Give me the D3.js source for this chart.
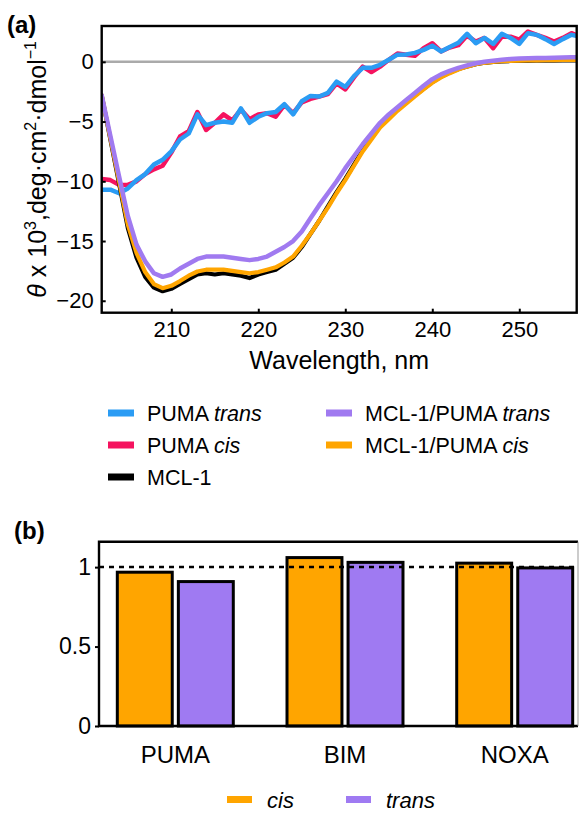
<!DOCTYPE html>
<html><head><meta charset="utf-8">
<script src="https://cdn.jsdelivr.net/npm/d3@7"></script>
<style>body{margin:0;background:#fff} svg{display:block;font-family:"Liberation Sans",Arial,Helvetica,sans-serif}</style>
</head><body><svg id="c" width="580" height="815"></svg>
<script>
// ---------- Panel (a) data ----------
const wavelengths = [202,203,204,205,206,207,208,209,210,211,212,213,214,215,216,217,218,219,220,221,222,223,224,225,226,227,228,229,230,231,232,233,234,235,236,237,238,239,240,241,242,243,244,245,246,247,248,249,250,251,252,253,254,255,256,257];
const pumaTrans = [-10.7,-10.7,-11.0,-10.6,-9.9,-9.4,-8.6,-8.2,-7.5,-6.5,-6.0,-4.4,-5.3,-5.1,-5.0,-5.1,-3.9,-5.1,-4.6,-4.3,-4.2,-3.55,-4.4,-3.3,-2.85,-2.9,-2.6,-1.65,-2.1,-1.2,-0.5,-0.5,-0.25,0.17,0.6,0.62,0.75,1.0,1.35,0.87,1.25,1.6,2.35,1.56,2.0,1.5,2.35,2.0,1.5,2.4,2.26,1.9,1.5,1.9,2.26,2.1];
const pumaCis = [-9.8,-9.9,-10.3,-10.3,-10.0,-9.4,-9.0,-8.7,-7.6,-6.25,-5.8,-4.2,-5.7,-5.1,-4.4,-4.9,-4.0,-4.8,-4.4,-4.3,-4.6,-3.6,-4.3,-3.4,-3.1,-2.9,-2.7,-1.8,-2.3,-1.3,-0.4,-0.85,-0.4,0.17,0.7,0.6,0.5,1.14,1.56,0.87,1.2,1.4,2.2,1.7,2.0,1.14,2.1,2.1,1.86,2.54,2.26,2.0,1.7,2.0,2.4,2.1];
const mcl1 = [-2.8,-6.5,-10.2,-13.9,-16.4,-18.0,-18.9,-19.2,-19.0,-18.6,-18.2,-17.8,-17.7,-17.8,-17.7,-17.8,-17.9,-18.1,-17.8,-17.6,-17.4,-16.9,-16.4,-15.5,-14.4,-13.3,-12.1,-10.9,-9.8,-8.6,-7.4,-6.4,-5.4,-4.7,-4.0,-3.4,-2.8,-2.25,-1.7,-1.25,-0.9,-0.6,-0.38,-0.2,-0.08,0.0,0.04,0.07,0.09,0.1,0.11,0.12,0.13,0.14,0.15,0.15];
const mclPumaCis = [-2.8,-6.4,-10.0,-13.6,-16.0,-17.6,-18.6,-18.95,-18.75,-18.35,-17.9,-17.55,-17.4,-17.4,-17.4,-17.5,-17.6,-17.7,-17.6,-17.4,-17.2,-16.8,-16.3,-15.4,-14.4,-13.3,-12.2,-11.0,-9.9,-8.7,-7.5,-6.5,-5.5,-4.8,-4.1,-3.5,-2.9,-2.3,-1.75,-1.3,-0.95,-0.65,-0.4,-0.2,-0.08,0.0,0.05,0.08,0.1,0.12,0.13,0.14,0.15,0.16,0.17,0.17];
const mclPumaTrans = [-2.8,-6.2,-9.6,-12.9,-15.3,-16.7,-17.7,-18.0,-17.8,-17.3,-16.9,-16.5,-16.3,-16.3,-16.3,-16.4,-16.5,-16.6,-16.5,-16.3,-15.9,-15.5,-15.0,-14.2,-13.1,-12.0,-11.0,-10.0,-8.9,-7.9,-6.9,-6.0,-5.1,-4.4,-3.8,-3.2,-2.6,-2.0,-1.45,-1.05,-0.75,-0.5,-0.3,-0.12,0.0,0.1,0.18,0.24,0.28,0.3,0.32,0.33,0.35,0.37,0.38,0.38];
const xTicksA = [210,220,230,240,250];
const yTicksA = [0,-5,-10,-15,-20];

// ---------- Panel (b) data ----------
const groups = ["PUMA","BIM","NOXA"];
const forms = ["cis","trans"];
const cisValues = [0.968,1.06,1.025];
const transValues = [0.909,1.03,0.995];
const yTicksB = [0,0.5,1];

const colors = {pumaTrans:"#2b9cf4", pumaCis:"#f5135f", mcl1:"#000000", mclPumaTrans:"#a07af0", mclPumaCis:"#ffa500"};
const barColors = {cis:"#ffa500", trans:"#9f7af2"};

const svg = d3.select("#c");
const FONT = "Liberation Sans, Arial, sans-serif";
const minus = s => String(s).replace("-", "\u2212");

// ================= Panel (a) =================
const A = {l:101.7, r:576.7, t:26, b:312.7};
const xA = d3.scaleLinear().domain([202, 256.6]).range([A.l, A.r]);
const yA = d3.scaleLinear().domain([-21, 3]).range([A.b, A.t]);

svg.append("defs").append("clipPath").attr("id","clipA")
  .append("rect").attr("x",A.l).attr("y",A.t).attr("width",A.r-A.l).attr("height",A.b-A.t);

svg.append("line").attr("x1",A.l).attr("x2",A.r).attr("y1",yA(0)).attr("y2",yA(0))
  .attr("stroke","#aaaaaa").attr("stroke-width",2.5);

const series = [
  {key:"pumaCis", vals:pumaCis, w:4.5},
  {key:"pumaTrans", vals:pumaTrans, w:4.5},
  {key:"mcl1", vals:mcl1, w:4.2},
  {key:"mclPumaCis", vals:mclPumaCis, w:4.2},
  {key:"mclPumaTrans", vals:mclPumaTrans, w:4.5}
];
const line = d3.line().x((d,i)=>xA(wavelengths[i])).y(d=>yA(d));
const gl = svg.append("g").attr("clip-path","url(#clipA)");
series.forEach(s=>{
  gl.append("path").attr("d", line(s.vals)).attr("fill","none")
    .attr("stroke", colors[s.key]).attr("stroke-width", s.w)
    .attr("stroke-linejoin","round").attr("stroke-linecap","round");
});

svg.append("rect").attr("x",A.l).attr("y",A.t).attr("width",A.r-A.l).attr("height",A.b-A.t)
  .attr("fill","none").attr("stroke","#000").attr("stroke-width",2.4);

const gxA = svg.append("g").attr("transform",`translate(0,${A.b})`)
  .call(d3.axisBottom(xA).tickValues(xTicksA).tickSizeInner(-4).tickSizeOuter(0).tickPadding(9));
gxA.select(".domain").remove();
gxA.selectAll(".tick line").attr("stroke","#000").attr("stroke-width",2);
gxA.selectAll(".tick text").attr("font-size",22).attr("fill","#000").attr("font-family",FONT);

const gyA = svg.append("g").attr("transform",`translate(${A.l},0)`)
  .call(d3.axisLeft(yA).tickValues(yTicksA).tickSizeInner(-4).tickSizeOuter(0).tickPadding(8).tickFormat(d=>minus(d)));
gyA.select(".domain").remove();
gyA.selectAll(".tick line").attr("stroke","#000").attr("stroke-width",2);
gyA.selectAll(".tick text").attr("font-size",22).attr("fill","#000").attr("font-family",FONT);

svg.append("text").attr("x",(A.l+A.r)/2).attr("y",369).attr("text-anchor","middle")
  .attr("font-size",25).text("Wavelength, nm");

const yt = svg.append("text").attr("transform",`translate(46,${(A.t+A.b)/2}) rotate(-90)`)
  .attr("text-anchor","middle").attr("font-size",25);
yt.append("tspan").attr("font-style","italic").text("\u03B8");
yt.append("tspan").text(" x 10");
yt.append("tspan").attr("font-size",16).attr("dy",-10).text("3");
yt.append("tspan").attr("dy",10).text(",deg\u00B7cm");
yt.append("tspan").attr("font-size",16).attr("dy",-10).text("2");
yt.append("tspan").attr("dy",10).text("\u00B7dmol");
yt.append("tspan").attr("font-size",16).attr("dy",-10).text("\u22121");

svg.append("text").attr("x",7).attr("y",33).attr("font-size",24).attr("font-weight","bold").text("(a)");

// legend (a)
const legA = [
  {key:"pumaTrans", parts:[["PUMA ",false],["trans",true]], col:0,row:0},
  {key:"pumaCis", parts:[["PUMA ",false],["cis",true]], col:0,row:1},
  {key:"mcl1", parts:[["MCL-1",false]], col:0,row:2},
  {key:"mclPumaTrans", parts:[["MCL-1/PUMA ",false],["trans",true]], col:1,row:0},
  {key:"mclPumaCis", parts:[["MCL-1/PUMA ",false],["cis",true]], col:1,row:1}
];
const legX = [108, 326], legY = [413, 445, 477];
legA.forEach(e=>{
  const x = legX[e.col], y = legY[e.row];
  svg.append("rect").attr("x",x).attr("y",y-3.5).attr("width",26).attr("height",7).attr("fill",colors[e.key]);
  const t = svg.append("text").attr("x",x+39).attr("y",y+8).attr("font-size",21.5);
  e.parts.forEach(p=>t.append("tspan").attr("font-style",p[1]?"italic":"normal").text(p[0]));
});

// ================= Panel (b) =================
const B = {l:99, r:578, t:541.7, b:726};
const step = 169.7;
const xB = d3.scaleBand().domain(groups).range([175.3 - step/2, 175.3 + step*2.5]).padding(0);
const xInner = d3.scaleBand().domain(forms).range([0, xB.bandwidth()]).paddingInner(0.1).paddingOuter(0.44);
const yB = d3.scaleLinear().domain([0, 1.16]).range([B.b, B.t]);

svg.append("defs").append("clipPath").attr("id","clipB")
  .append("rect").attr("x",B.l).attr("y",B.t-5).attr("width",B.r-B.l).attr("height",B.b-B.t+10);

const gb = svg.append("g").attr("clip-path","url(#clipB)");
groups.forEach((g,i)=>{
  const vals = {cis:cisValues[i], trans:transValues[i]};
  forms.forEach(f=>{
    gb.append("rect").attr("x", xB(g)+xInner(f)).attr("width", xInner.bandwidth())
      .attr("y", yB(vals[f])).attr("height", yB(0)-yB(vals[f]))
      .attr("fill", barColors[f]).attr("stroke","#000").attr("stroke-width",3);
  });
});

svg.append("line").attr("x1",B.l).attr("x2",B.r).attr("y1",yB(1)).attr("y2",yB(1))
  .attr("stroke","#000").attr("stroke-width",2.5).attr("stroke-dasharray","5,5");

svg.append("path").attr("d",`M${B.r},${B.t}H${B.l}V${B.b}H${B.r}`).attr("fill","none").attr("stroke","#000").attr("stroke-width",2.4);
svg.append("line").attr("x1",B.r).attr("x2",B.r).attr("y1",B.t).attr("y2",B.b).attr("stroke","#999").attr("stroke-width",1);

const gyB = svg.append("g").attr("transform",`translate(${B.l},0)`)
  .call(d3.axisLeft(yB).tickValues(yTicksB).tickSizeInner(4).tickSizeOuter(0).tickPadding(4).tickFormat(d=>String(d)));
gyB.select(".domain").remove();
gyB.selectAll(".tick line").attr("stroke","#000").attr("stroke-width",2);
gyB.selectAll(".tick text").attr("font-size",23).attr("fill","#000").attr("font-family",FONT);

const gxB = svg.append("g").attr("transform",`translate(0,${B.b})`)
  .call(d3.axisBottom(xB).tickSize(0).tickPadding(20));
gxB.select(".domain").remove();
gxB.selectAll(".tick text").attr("font-size",24).attr("fill","#000").attr("font-family",FONT);

svg.append("text").attr("x",14).attr("y",539).attr("font-size",24).attr("font-weight","bold").text("(b)");

// legend (b)
const legB = [{f:"cis", x:227},{f:"trans", x:346}];
legB.forEach(e=>{
  svg.append("rect").attr("x",e.x).attr("y",796).attr("width",25).attr("height",7).attr("fill",barColors[e.f]);
  svg.append("text").attr("x",e.x+40).attr("y",808).attr("font-size",22).attr("font-style","italic").text(e.f);
});
</script></body></html>
